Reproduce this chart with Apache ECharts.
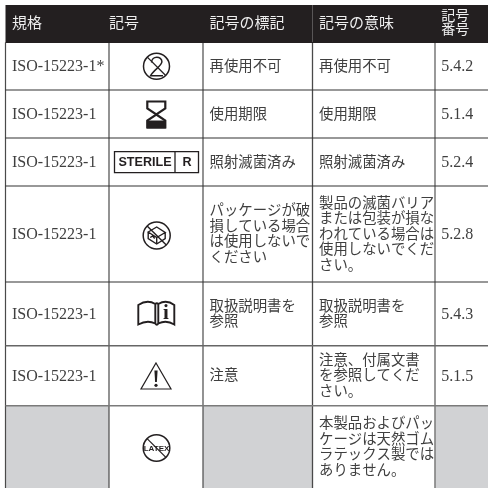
<!DOCTYPE html>
<html>
<head>
<meta charset="utf-8">
<style>html,body{margin:0;padding:0;background:#fff}#c{width:488px;height:488px}</style>
<script src="https://cdn.jsdelivr.net/npm/echarts@6/dist/echarts.min.js"></script>
</head>
<body>
<div id="c"></div>
<script>
const headers = ['規格', '記号', '記号の標記', '記号の意味', '記号\n番号'];
const standards = ['ISO-15223-1*', 'ISO-15223-1', 'ISO-15223-1', 'ISO-15223-1', 'ISO-15223-1', 'ISO-15223-1', ''];
const symbols = ['noReuse', 'hourglass', 'sterile', 'package', 'book', 'warning', 'latex'];
const markings = [
  '再使用不可',
  '使用期限',
  '照射滅菌済み',
  'パッケージが破\n損している場合\nは使用しないで\nください',
  '取扱説明書を\n参照',
  '注意',
  ''
];
const meanings = [
  '再使用不可',
  '使用期限',
  '照射滅菌済み',
  '製品の滅菌バリア\nまたは包装が損な\nわれている場合は\n使用しないでくだ\nさい。',
  '取扱説明書を\n参照',
  '注意、付属文書\nを参照してくだ\nさい。',
  '本製品およびパッ\nケージは天然ゴム\nラテックス製では\nありません。'
];
const numbers = ['5.4.2', '5.1.4', '5.2.4', '5.2.8', '5.4.3', '5.1.5', ''];

const columnEdges = [5.5, 109, 203, 312.5, 435, 488];
const rowEdges = [5, 42.5, 90, 138, 186, 282, 345.7, 405.7, 488];
const columnTables = [standards, symbols, markings, meanings, numbers];

const FONT = '"Liberation Serif","Noto Sans CJK JP",serif';
const INK = '#3f3f3f';
const BLACK = '#231f20';
const PAD = [6.5, 0, 6.5, 6.5, 6.2];

function cellText(c, r) {
  if (r === 0) return headers[c];
  if (c === 1) return '';
  return columnTables[c][r - 1];
}
const cellData = [];
for (let r = 0; r <= symbols.length; r++) for (let c = 0; c < 5; c++) cellData.push([c, r]);

function renderCell(params, api) {
  const c = api.value(0), r = api.value(1);
  const p0 = api.coord([columnEdges[c], rowEdges[r]]);
  const p1 = api.coord([columnEdges[c + 1], rowEdges[r + 1]]);
  const children = [];
  const isGrey = r === symbols.length && (c === 0 || c === 2 || c === 4);
  const fill = r === 0 ? BLACK : isGrey ? '#d1d2d4' : '#ffffff';
  children.push({ type: 'rect', shape: { x: p0[0], y: p0[1], width: p1[0] - p0[0], height: p1[1] - p0[1] }, style: { fill: fill } });
  const t = cellText(c, r);
  if (t) {
    const header = r === 0;
    const narrow = header && c === 4;
    children.push({
      type: 'text',
      x: p0[0] + PAD[c],
      y: (p0[1] + p1[1]) / 2 + (header ? 0 : 0.8),
      style: {
        text: t,
        font: (header ? (narrow ? 14 : 15) : (c === 0 || c === 4 ? 16 : 14.4)) + 'px ' + FONT,
        lineHeight: narrow ? 14 : 15.5,
        fill: header ? '#eeeeee' : INK,
        textAlign: 'left',
        textVerticalAlign: 'middle'
      }
    });
  }
  return { type: 'group', children: children };
}

function stroke(w, fill) { return { stroke: BLACK, lineWidth: w, fill: fill || 'none' }; }
function ring(r, w) { return { type: 'circle', shape: { cx: 0, cy: 0, r: r }, style: stroke(w) }; }
function slash(d, w) { return { type: 'line', shape: { x1: -d, y1: -d, x2: d, y2: d }, style: stroke(w) }; }
function path(d, w, fill) {
  return { type: 'path', shape: { pathData: d }, style: stroke(w, fill) };
}
function pathAt(d, w, fill, box) {
  return { type: 'path', shape: { pathData: d, layout: 'cover', x: box[0], y: box[1], width: box[2], height: box[3] }, style: stroke(w, fill) };
}
function label(x, y, text, font) {
  return { type: 'text', x: x, y: y, style: { text: text, font: font, fill: BLACK, textAlign: 'center', textVerticalAlign: 'middle' } };
}

const iconDrawers = {
  noReuse: () => [
    ring(13, 1.5),
    slash(9.2, 1.3),
    pathAt('M-4.5,-3 C-4.5,-9 5,-9 5,-3.5 C5,0 -3,4 -5.5,9 L6,9', 1.5, 'none', [-6, -9, 12.5, 18.5])
  ],
  hourglass: () => [
    pathAt('M-9,-13 L9,-13 L9,-6 L0,0 L-9,-6 Z', 2.2, 'none', [-9, -13, 18, 13]),
    pathAt('M0,0 L9,6 L9,13 L-9,13 L-9,6 Z', 2.2, 'none', [-9, 0, 18, 13]),
    { type: 'rect', shape: { x: -9.5, y: 6, width: 19, height: 8 }, style: { fill: BLACK } }
  ],
  sterile: () => [
    { type: 'rect', shape: { x: -42, y: -10.5, width: 84, height: 21 }, style: stroke(1.3) },
    { type: 'line', shape: { x1: 18.5, y1: -10.5, x2: 18.5, y2: 10.5 }, style: stroke(1.3) },
    label(-11.5, 0.5, 'STERILE', 'bold 12.6px "Liberation Sans",sans-serif'),
    label(30.5, 0.5, 'R', 'bold 12.6px "Liberation Sans",sans-serif')
  ],
  package: () => [
    ring(13.5, 1.5),
    slash(9.6, 1.4),
    path('M-8.5,-3.5 L0,-8.5 L8.5,-3 L0,2 Z M-8.5,-3.5 L-8.5,3 L0,8.5 L8.5,3.2 L8.5,-3 M0,2 L0,8.5 M-6.5,2 L-4,0.5 L-2,3', 1.4)
  ],
  book: () => [
    path('M-1,-9 Q-9,-14 -18,-8 L-18,11.5 Q-9,6.5 -1,10.5 Z M2,-9 Q10,-14 18,-8 L18,11.5 Q10,6.5 2,10.5 Z M-1,-9 Q0.5,-10.5 2,-9 M-1,10.5 Q0.5,13 2,10.5', 1.9),
    label(9.5, 0.5, 'i', 'bold 21px "Liberation Serif",serif')
  ],
  warning: () => [
    { type: 'polygon', shape: { points: [[0, -13], [15, 13], [-15, 13]] }, style: stroke(1.2) },
    { type: 'polygon', shape: { points: [[-1.6, -5.5], [1.6, -5.5], [0.9, 6], [-0.9, 6]] }, style: { fill: BLACK } },
    { type: 'circle', shape: { cx: 0, cy: 9.3, r: 1.6 }, style: { fill: BLACK } }
  ],
  latex: () => [
    ring(13.3, 1.5),
    label(0, 0.5, 'LATEX', 'bold 8px "Liberation Sans",sans-serif'),
    slash(9.4, 1.2)
  ]
};
const iconCentres = { noReuse: [156.5, 66.3], hourglass: [156.3, 114.5], sterile: [156.5, 162.2], package: [156.7, 235.5], book: [156.3, 313], warning: [156, 376], latex: [156.5, 448] };

function renderIcon(params, api) {
  const name = symbols[api.value(0)];
  const centre = iconCentres[name];
  const p = api.coord(centre);
  return { type: 'group', x: p[0], y: p[1], children: iconDrawers[name]() };
}

const ruleData = [];
for (let c = 0; c < 5; c++) ruleData.push([0, c]);
for (let r = 1; r < rowEdges.length; r++) ruleData.push([1, r]);
const verticalStyle = [['#4a4a4a', 1.2], ['#4a4a4a', 1.2], ['#4a4a4a', 1.2], ['#4a4a4a', 1.3], ['#808080', 1.6]];
const horizontalStyle = { 1: ['#231f20', 1], 2: ['#333333', 1.2], 3: ['#333333', 1.2], 4: ['#333333', 1.2], 5: ['#333333', 1.2], 6: ['#666666', 1.4], 7: ['#7a7a7a', 1.6], 8: ['#ffffff', 0] };

function renderRule(params, api) {
  const kind = api.value(0), i = api.value(1);
  let a, b, s;
  if (kind === 0) {
    a = api.coord([columnEdges[i], rowEdges[1]]);
    b = api.coord([columnEdges[i], rowEdges[rowEdges.length - 1]]);
    s = verticalStyle[i];
  } else {
    a = api.coord([columnEdges[0], rowEdges[i]]);
    b = api.coord([columnEdges[columnEdges.length - 1], rowEdges[i]]);
    s = horizontalStyle[i];
  }
  return { type: 'line', shape: { x1: a[0], y1: a[1], x2: b[0], y2: b[1] }, style: { stroke: s[0], lineWidth: s[1] } };
}

const chart = echarts.init(document.getElementById('c'), null, { renderer: 'canvas', width: 488, height: 488 });
chart.setOption({
  animation: false,
  backgroundColor: '#ffffff',
  grid: { left: 0, right: 0, top: 0, bottom: 0 },
  xAxis: { type: 'value', min: 0, max: 488, show: false },
  yAxis: { type: 'value', min: 0, max: 488, inverse: true, show: false },
  series: [
    { type: 'custom', coordinateSystem: 'cartesian2d', silent: true, clip: false, data: cellData, renderItem: renderCell, z: 1 },
    { type: 'custom', coordinateSystem: 'cartesian2d', silent: true, clip: false, data: ruleData, renderItem: renderRule, z: 2 },
    { type: 'custom', coordinateSystem: 'cartesian2d', silent: true, clip: false, data: symbols.map((s, i) => [i, 0]), renderItem: renderIcon, z: 3 }
  ]
});
</script>
</body>
</html>
